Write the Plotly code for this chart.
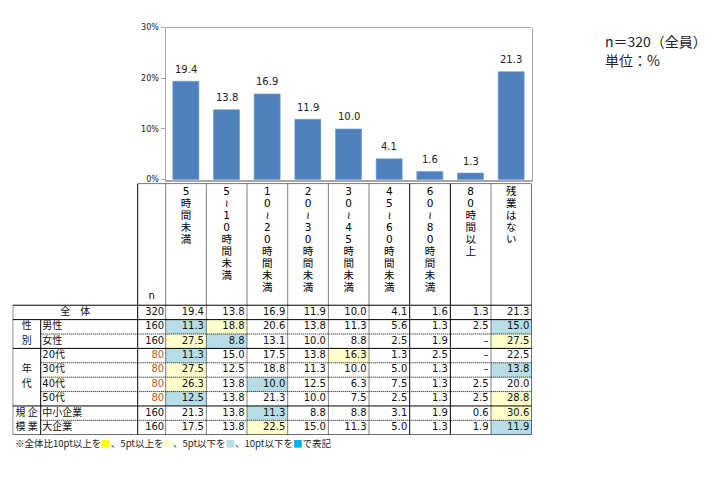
import plotly.graph_objects as go

# ---------------- data ----------------
categories = ["5時間未満", "5～10時間未満", "10～20時間未満", "20～30時間未満",
              "30～45時間未満", "45～60時間未満", "60～80時間未満", "80時間以上", "残業はない"]
total_n = 320
total = [19.4, 13.8, 16.9, 11.9, 10.0, 4.1, 1.6, 1.3, 21.3]

row_labels = ["男性", "女性", "20代", "30代", "40代", "50代", "中小企業", "大企業"]
row_n = [160, 160, 80, 80, 80, 80, 160, 160]
male = [11.3, 18.8, 20.6, 13.8, 11.3, 5.6, 1.3, 2.5, 15.0]
female = [27.5, 8.8, 13.1, 10.0, 8.8, 2.5, 1.9, None, 27.5]
age20 = [11.3, 15.0, 17.5, 13.8, 16.3, 1.3, 2.5, None, 22.5]
age30 = [27.5, 12.5, 18.8, 11.3, 10.0, 5.0, 1.3, None, 13.8]
age40 = [26.3, 13.8, 10.0, 12.5, 6.3, 7.5, 1.3, 2.5, 20.0]
age50 = [12.5, 13.8, 21.3, 10.0, 7.5, 2.5, 1.3, 2.5, 28.8]
small_co = [21.3, 13.8, 11.3, 8.8, 8.8, 3.1, 1.9, 0.6, 30.6]
large_co = [17.5, 13.8, 22.5, 15.0, 11.3, 5.0, 1.3, 1.9, 11.9]
rows = [male, female, age20, age30, age40, age50, small_co, large_co]

yticks = [0, 10, 20, 30]
ytick_labels = ["0%", "10%", "20%", "30%"]

# ---------------- layout constants ----------------
W, H = 718, 478
FONT = "DejaVu Sans, Noto Sans CJK JP"
CJK = "Noto Sans CJK JP"
BAR = "#4F81BD"
AX = "#A6A6A6"
Y_LIGHT, Y_STRONG = "#FFFFCC", "#FFFF00"
B_LIGHT, B_STRONG = "#B7DEE8", "#00B0F0"

# bar plot area (pixels)
PL, PR, PT, PB = 165.5, 531.5, 24, 179
# table area (pixels)
TL, TR, TTOP, TDATA, TBOT = 12.7, 531.7, 183, 307, 439
unit = (TR - 165.7) / 9.0
x_left = -0.5 - (165.7 - TL) / unit
XG1 = -0.5 - (165.7 - 40.7) / unit
XL1 = -0.5 - (165.7 - 137.7) / unit
XN1 = -0.5
rowh = (TBOT - TDATA) / 9.0
y_head = -(TDATA - TTOP) / rowh

fig = go.Figure()

# ---------------- bar chart ----------------
fig.add_trace(go.Bar(
    x=categories, y=total, marker=dict(color=BAR, line=dict(color="#6F9BD1", width=0.6)),
    width=0.64, hoverinfo="skip", xaxis="x", yaxis="y"))

annotations = []
for c, v in zip(categories, total):
    annotations.append(dict(x=c, y=v, xref="x", yref="y", text=f"{v:.1f}", showarrow=False,
                            yanchor="middle", yshift=12,
                            font=dict(family=FONT, size=10, color="#222")))

# ---------------- table ----------------
shapes = []

def hline(y, x0, x1, dot=False):
    shapes.append(dict(type="line", xref="x2", yref="y2", x0=x0, x1=x1, y0=y, y1=y,
                       line=dict(color="black", width=1, dash="1px,1px" if dot else "solid")))

def vline(x, y0, y1, dot=False):
    shapes.append(dict(type="line", xref="x2", yref="y2", x0=x, x1=x, y0=y0, y1=y1,
                       line=dict(color="black", width=1, dash="1px,1px" if dot else "solid")))

# cell fills derived from difference vs total
for r, vals in enumerate(rows):
    for i, v in enumerate(vals):
        if v is None:
            continue
        d = round(v - total[i], 1)
        col = None
        if d >= 10:
            col = Y_STRONG
        elif d >= 5:
            col = Y_LIGHT
        elif d <= -10:
            col = B_STRONG
        elif d <= -5:
            col = B_LIGHT
        if col:
            shapes.append(dict(type="rect", xref="x2", yref="y2", x0=i - 0.5, x1=i + 0.5,
                               y0=r + 1, y1=r + 2, fillcolor=col, line=dict(width=0),
                               layer="below"))

right = len(categories) - 0.5
# horizontal lines
hline(y_head, XL1, right)
for y in [0, 1, 3, 7, 9]:
    hline(y, x_left, right)
for y in [2, 4, 5, 6, 8]:
    hline(y, XG1, right, dot=True)
# vertical lines
vline(x_left, 0, 9)
vline(XG1, 1, 9)
vline(XL1, y_head, 9)
vline(XN1, y_head, 9, dot=True)
for k in range(1, 9):
    vline(-0.5 + k, y_head, 9, dot=(k not in (6, 7)))
vline(right, y_head, 9)

# header vertical category labels
hx, hy, ht = [], [], []
step = 12.25 / rowh
first = (192 - TDATA) / rowh
for i, c in enumerate(categories):
    for j, ch in enumerate(c.replace("～", "≀")):
        hx.append(i)
        hy.append(first + j * step)
        ht.append(ch)
fig.add_trace(go.Scatter(x=hx, y=hy, text=ht, mode="text", textposition="middle center",
                         textfont=dict(family=FONT, size=10.5, color="black"),
                         cliponaxis=False, hoverinfo="skip", xaxis="x2", yaxis="y2"))
fig.add_trace(go.Scatter(x=[(XL1 + XN1) / 2], y=[(298 - TDATA) / rowh], text=["n"], mode="text",
                         textfont=dict(family=FONT, size=10, color="black"),
                         cliponaxis=False, hoverinfo="skip", xaxis="x2", yaxis="y2"))

# values
pad = 0.06
vx, vy, vt = [], [], []
all_rows = [total] + rows
for r, vals in enumerate(all_rows):
    for i, v in enumerate(vals):
        vx.append(i + 0.5 - pad)
        vy.append(r + 0.5)
        vt.append("–" if v is None else f"{v:.1f}")
fig.add_trace(go.Scatter(x=vx, y=vy, text=vt, mode="text", textposition="middle left",
                         textfont=dict(family=FONT, size=10, color="#111"),
                         cliponaxis=False, hoverinfo="skip", xaxis="x2", yaxis="y2"))

# n column
ns = [total_n] + row_n
fig.add_trace(go.Scatter(x=[XN1 - pad * 0.6] * len(ns), y=[r + 0.5 for r in range(len(ns))],
                         text=[str(n) for n in ns], mode="text", textposition="middle left",
                         textfont=dict(family=FONT, size=10,
                                       color=["#C55A11" if n < 100 else "#111" for n in ns]),
                         cliponaxis=False, hoverinfo="skip", xaxis="x2", yaxis="y2"))

# row labels
fig.add_trace(go.Scatter(x=[XG1 + 0.04] * len(row_labels),
                         y=[r + 1.5 for r in range(len(row_labels))],
                         text=row_labels, mode="text", textposition="middle right",
                         textfont=dict(family=FONT, size=10, color="#111"),
                         cliponaxis=False, hoverinfo="skip", xaxis="x2", yaxis="y2"))
# total label and group labels
gx = (x_left + XG1) / 2
fig.add_trace(go.Scatter(x=[(x_left + XL1) / 2, gx, gx, gx, gx, gx, gx],
                         y=[0.5, 1.5, 2.5, 4.5, 5.5, 7.5, 8.5],
                         text=["全　体", "性", "別", "年", "代", "規 企", "模 業"],
                         mode="text", textposition="middle center",
                         textfont=dict(family=CJK, size=10, color="#111"),
                         cliponaxis=False, hoverinfo="skip", xaxis="x2", yaxis="y2"))

# top border of bar plot area
shapes.append(dict(type="line", xref="x domain", yref="y domain", x0=0, x1=1, y0=1, y1=1,
                   line=dict(color=AX, width=1)))

# footnote and notes
annotations.append(dict(
    x=TL / W, y=1 - 447 / H, xref="paper", yref="paper", xanchor="left", yanchor="middle",
    showarrow=False,
    text=("※全体比10pt以上を<span style='color:%s'>■</span>、5pt以上を<span style='color:%s'>■</span>、"
          "5pt以下を<span style='color:%s'>■</span>、10pt以下を<span style='color:%s'>■</span>で表記")
         % (Y_STRONG, Y_LIGHT, B_LIGHT, B_STRONG),
    font=dict(family=CJK, size=9.5, color="#222")))
annotations.append(dict(x=603 / W, y=1 - 38 / H, xref="paper", yref="paper", xanchor="left",
                        yanchor="middle", showarrow=False, text=f"n＝{total_n}（全員）",
                        font=dict(family=CJK, size=14, color="#222")))
annotations.append(dict(x=603 / W, y=1 - 57 / H, xref="paper", yref="paper", xanchor="left",
                        yanchor="middle", showarrow=False, text="単位：%",
                        font=dict(family=CJK, size=14, color="#222")))

fig.update_layout(
    width=W, height=H, margin=dict(l=0, r=0, t=0, b=0),
    paper_bgcolor="white", plot_bgcolor="white", showlegend=False,
    bargap=0.36,
    xaxis=dict(domain=[PL / W, PR / W], anchor="y", showticklabels=False, ticks="",
               showgrid=False, showline=True, linecolor=AX, linewidth=2, zeroline=False,
               fixedrange=True),
    yaxis=dict(domain=[1 - PB / H, 1 - PT / H], anchor="x", range=[0, 30],
               tickmode="array", tickvals=yticks, ticktext=ytick_labels,
               ticks="outside", ticklen=4, tickcolor=AX, showgrid=False,
               showline=True, mirror=True, linecolor=AX, linewidth=1, zeroline=False,
               tickfont=dict(family=FONT, size=8, color="#222")),
    xaxis2=dict(domain=[TL / W, TR / W], anchor="y2", range=[x_left, right], visible=False),
    yaxis2=dict(domain=[1 - TBOT / H, 1 - TTOP / H], anchor="x2", range=[9, y_head],
                visible=False),
    shapes=shapes, annotations=annotations,
)

fig.write_html("out.html", config={"displayModeBar": False},
               post_script="document.body.style.margin='0px';document.body.style.overflow='hidden';")
